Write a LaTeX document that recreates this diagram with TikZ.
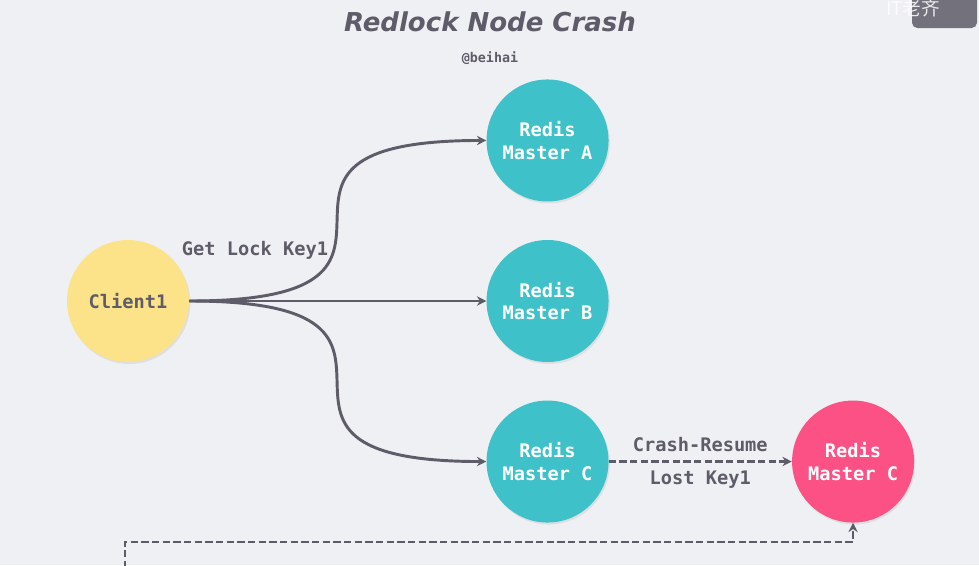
\documentclass[tikz,border=0pt]{standalone}
\usepackage{fontspec}
\setmainfont{DejaVu Sans}
\setmonofont{DejaVu Sans Mono}
\newfontfamily\cjk{Noto Sans CJK SC}
\usetikzlibrary{positioning, arrows.meta, shadows}

\definecolor{bgcol}{HTML}{EFF0F4}
\definecolor{inkgray}{HTML}{5E5C68}
\definecolor{redisteal}{HTML}{3FC1C9}
\definecolor{clientyellow}{HTML}{FCE38A}
\definecolor{crashpink}{HTML}{FC5185}

\begin{document}
\begin{tikzpicture}[
        x=0.75pt, y=-0.75pt,
        every node/.style={font=\ttfamily\bfseries\fontsize{14}{17}\selectfont, text=inkgray, align=center},
        ball/.style={circle, minimum size=91.5pt, inner sep=0pt,
          drop shadow={opacity=0.15, shadow xshift=1pt, shadow yshift=-1.5pt}},
        redis/.style={ball, fill=redisteal, text=white},
        crashed/.style={ball, fill=crashpink, text=white},
        link/.style={draw=inkgray, line width=2.2pt, -{Stealth[length=7pt, width=7pt]}},
        lost/.style={link, line width=1.9pt, dash pattern=on 5.5pt off 2.5pt},
    ]
        \useasboundingbox[fill=bgcol] (0,0) rectangle (979,565);

        % title
        \node[font=\bfseries\itshape\fontsize{19.5}{22}\selectfont] (title) at (490,22) {Redlock Node Crash};
        \node[font=\ttfamily\bfseries\fontsize{10}{12}\selectfont] (author) at (490,58) {@beihai};

        % watermark
        \fill[inkgray!95, opacity=0.9, rounded corners=4pt] (912,-10) rectangle (977,28);
        \node[font=\cjk\fontsize{14}{14}\selectfont, text=white, opacity=0.85] (mark) at (913,8) {IT老齐};

        \node[ball, fill=clientyellow] (client) at (128,301) {Client1};
        \node[redis, right=222.75pt of client] (masterB) {Redis\\Master B};
        \node[redis, above=28.5pt of masterB] (masterA) {Redis\\Master A};
        \node[redis, below=28.5pt of masterB] (masterC) {Redis\\Master C};
        \node[crashed, right=137.25pt of masterC] (crashedC) {Redis\\Master C};
        \node (getlock) at (255,250) {Get Lock Key1};

        \draw[link] (client.east) to[out=0, in=180, looseness=2.2] (masterA.west);
        \draw[link] (client) -- (masterB);
        \draw[link] (client.east) to[out=0, in=180, looseness=2.2] (masterC.west);

        \draw[lost] (masterC) -- node[above=3pt] {Crash-Resume} node[below=3pt] {Lost Key1} (crashedC);

        \coordinate (origin) at (125,600);
        \coordinate[below=14.25pt of crashedC] (turn);
        \draw[lost] (origin) |- (turn) -- (crashedC.south);
    \end{tikzpicture}
\end{document}
